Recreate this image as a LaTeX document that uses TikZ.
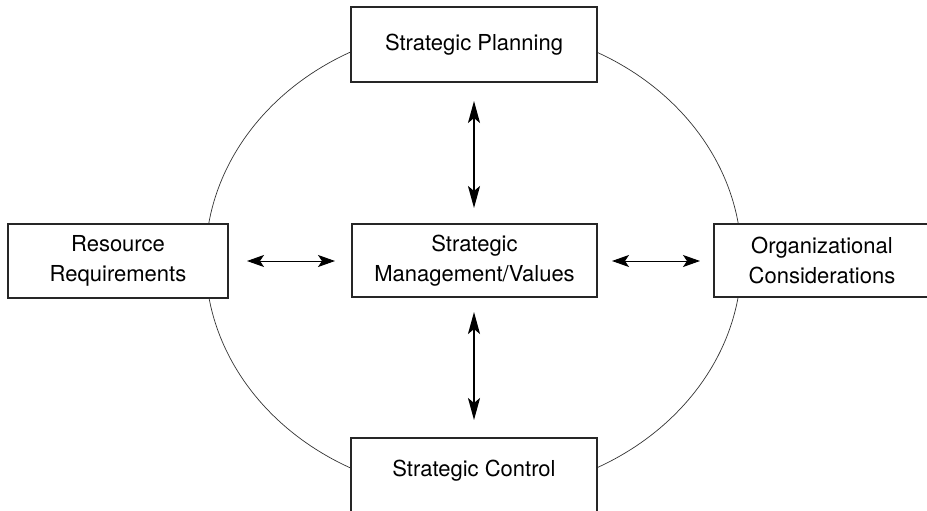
\documentclass[tikz,border=0pt]{standalone}
\usepackage{fontspec}
\setmainfont{TeX Gyre Heros}
\usetikzlibrary{arrows.meta}
\begin{document}
\begin{tikzpicture}[x=1pt,y=-1pt,
  box/.style={draw=black!85,line width=1.1pt,fill=white,inner sep=0pt,
    align=center,font=\fontsize{22}{30}\selectfont},
  bigarrow/.style={line width=2pt,{Stealth[length=22pt,width=12pt,inset=5pt]}-{Stealth[length=22pt,width=12pt,inset=5pt]}},
  smallarrow/.style={line width=1pt,{Stealth[length=17pt,width=12pt,inset=4pt]}-{Stealth[length=17pt,width=12pt,inset=4pt]}}]
\useasboundingbox (0,0) rectangle (927,511);
\begin{scope}
\clip (0,0) rectangle (927,511);
\draw[line width=0.7pt,black!80] (473.5,260) ellipse [x radius=268, y radius=234];
\node[box,minimum width=246pt,minimum height=75pt] (plan) at (474,44.5) {Strategic Planning};
\node[box,minimum width=220pt,minimum height=74pt] (res) at (118,261) {Resource\\Requirements};
\node[box,minimum width=245pt,minimum height=73pt] (mgmt) at (474.5,260.5) {Strategic\\Management/Values};
\node[box,minimum width=222pt,minimum height=73pt] (org) at (825,260.5) {};
\node[font=\fontsize{22}{30}\selectfont,align=center] (orgtext) at (822,260.5) {Organizational\\Considerations};
\node[box,minimum width=246pt,minimum height=76pt] (ctrl) at (474,476) {};
\node[font=\fontsize{22}{30}\selectfont] (ctrltext) at (474,471) {Strategic Control};
\end{scope}
\coordinate (pa) at (474,101);
\coordinate (pb) at (474,208);
\coordinate (ca) at (474,312);
\coordinate (cb) at (474,420);
\coordinate (ra) at (247,261);
\coordinate (rb) at (335,261);
\coordinate (oa) at (612,261);
\coordinate (ob) at (700,261);
\draw[bigarrow] (pa) -- (pb);
\draw[bigarrow] (ca) -- (cb);
\draw[smallarrow] (ra) -- (rb);
\draw[smallarrow] (oa) -- (ob);
\end{tikzpicture}
\end{document}
